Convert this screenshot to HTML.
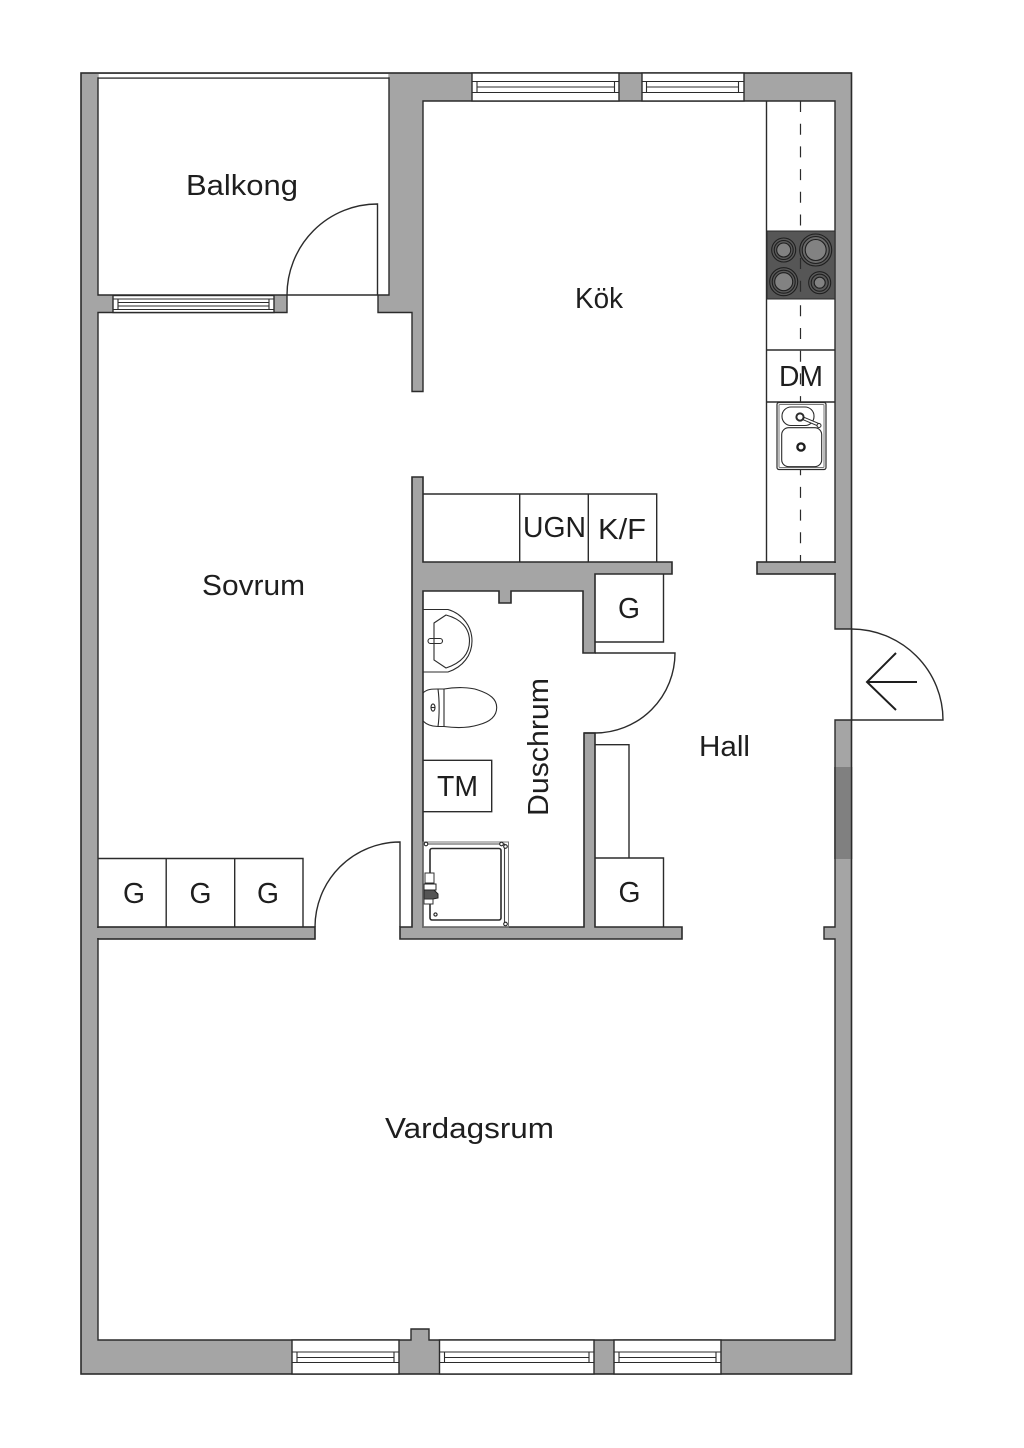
<!DOCTYPE html>
<html>
<head>
<meta charset="utf-8">
<title>Floor plan</title>
<style>
html,body{margin:0;padding:0;background:#fff;}
svg{display:block;}
text{font-family:"Liberation Sans",sans-serif;font-size:29px;fill:#1e1e1e;}
.l{fill:none;stroke:#2b2b2b;stroke-width:1.4;}
.w{fill:#fff;stroke:#2b2b2b;stroke-width:1.4;}
.g{fill:#a5a5a5;stroke:#2b2b2b;stroke-width:1.6;}
.t{fill:none;stroke:#2b2b2b;stroke-width:1.1;}
</style>
</head>
<body>
<svg width="1024" height="1448" viewBox="0 0 1024 1448" xmlns="http://www.w3.org/2000/svg">
<rect width="1024" height="1448" fill="#fff"/>

<!-- outer walls -->
<rect x="81" y="73" width="770.5" height="1301" class="g"/>
<!-- interior -->
<path class="w" d="M98 312.5 H287 V295 H98 V78 H389 V295 H378 V312.5 H412 V391.5 H423 V101 H835 V629 H851.5 V720 H835 V927 H824 V939 H835 V1340 H429 V1329 H411 V1340 H98 Z"/>
<rect x="98.7" y="74" width="289.6" height="3.4" fill="#fff"/>
<path class="l" d="M287 295 H378"/>
<path class="l" d="M851.5 629 V720" />

<!-- dark wall panel -->
<rect x="834.5" y="767" width="17" height="92" fill="#808080"/>
<path class="l" d="M835 767 V859 M851.5 767 V859"/>

<!-- interior walls -->
<path class="g" d="M412 477 H423 V562 H672 V574 H595 V653 H583 V591 H511 V603 H499 V591 H423 V927 H584 V733 H595 V927 H682 V939 H400 V927 H412 Z"/>
<rect x="98" y="927" width="217" height="12" class="g"/>
<rect x="96" y="928" width="5" height="10" fill="#a5a5a5"/>
<rect x="757" y="562" width="78" height="12" class="g"/>
<rect x="833" y="563" width="5" height="10" fill="#a5a5a5"/>

<!-- doors -->
<path class="l" d="M377.5 295 V204 A90.5 91 0 0 0 287 295"/>
<path class="l" d="M851.5 720 H943 A92 91 0 0 0 851.5 629"/>
<path class="l" d="M595 653 H675 A80 80 0 0 1 595 733 H584"/>
<path class="l" d="M400 927 V842 A85 85 0 0 0 315 927"/>
<path fill="none" stroke="#1e1e1e" stroke-width="2" d="M917 682 H867 M896 653 L867 682 L896 710"/>

<!-- windows -->
<g>
<!-- balcony -->
<rect x="113" y="295.500" width="161" height="17" class="w"/>
<path class="t" d="M113 299 H274 M118 302.5 H269 M118 306 H269 M113 309.5 H274 M118 299 V309.5 M269 299 V309.5"/>
<!-- top -->
<rect x="472" y="73" width="147" height="28" class="w"/>
<path class="t" d="M472 81.5 H619 M477 87 H614.5 M472 92.5 H619 M477 81.5 V92.5 M614.5 81.5 V92.5"/>
<rect x="642" y="73" width="102" height="28" class="w"/>
<path class="t" d="M642 81.5 H744 M646.5 87 H738.5 M642 92.5 H744 M646.5 81.5 V92.5 M738.5 81.5 V92.5"/>
<!-- bottom -->
<rect x="292" y="1340" width="107" height="34" class="w"/>
<path class="t" d="M292 1352 H399 M297 1357.5 H394 M292 1362.5 H399 M297 1352 V1362.5 M394 1352 V1362.5"/>
<rect x="439.500" y="1340" width="154.500" height="34" class="w"/>
<path class="t" d="M439.5 1352 H594 M444.5 1357.5 H589 M439.5 1362.5 H594 M444.5 1352 V1362.5 M589 1352 V1362.5"/>
<rect x="614" y="1340" width="107" height="34" class="w"/>
<path class="t" d="M614 1352 H721 M619 1357.5 H716 M614 1362.5 H721 M619 1352 V1362.5 M716 1352 V1362.5"/>
</g>

<!-- kitchen counter -->
<path class="l" d="M766.5 101 V562 M767 350 H835 M767 402 H835"/>
<path fill="none" stroke="#2b2b2b" stroke-width="1.2" stroke-dasharray="11 11.7" d="M800.5 101 V562"/>
<!-- stove -->
<rect x="767" y="231" width="68" height="68" fill="#565656" stroke="#2b2b2b" stroke-width="1"/>
<path stroke="#2b2b2b" stroke-width="1.2" stroke-dasharray="11 11.7" d="M800.5 258 V299"/>
<g stroke="#1f1f1f" stroke-width="1.1">
<circle cx="783.7" cy="250" r="12" fill="#5a5a5a"/><circle cx="783.7" cy="250" r="9.5" fill="#5a5a5a"/><circle cx="783.7" cy="250" r="7" fill="#828282"/>
<circle cx="815.7" cy="250" r="16" fill="#5a5a5a"/><circle cx="815.7" cy="250" r="13.5" fill="#6a6a6a"/><circle cx="815.7" cy="250" r="10.5" fill="#828282"/>
<circle cx="783.7" cy="281.7" r="14" fill="#5a5a5a"/><circle cx="783.7" cy="281.7" r="11.5" fill="#5a5a5a"/><circle cx="783.7" cy="281.7" r="9" fill="#828282"/>
<circle cx="819.7" cy="282.7" r="11" fill="#5a5a5a"/><circle cx="819.7" cy="282.7" r="8.5" fill="#5a5a5a"/><circle cx="819.7" cy="282.7" r="5.5" fill="#828282"/>
</g>
<!-- sink -->
<rect x="777" y="402.5" width="49" height="67" rx="2" fill="#fff" stroke="#2b2b2b" stroke-width="1.2"/>
<rect x="779" y="404.5" width="45" height="63" rx="1" fill="none" stroke="#777" stroke-width="1"/>
<rect x="782" y="407" width="32" height="18.5" rx="9" class="t" style="fill:#fff"/>
<rect x="781.7" y="427.7" width="40" height="39" rx="7" class="t" style="fill:#fff"/>
<path fill="none" stroke="#2b2b2b" stroke-width="3.6" d="M800 417 L819 425"/>
<path fill="none" stroke="#fff" stroke-width="1.6" d="M800 417 L819 425"/>
<circle cx="800" cy="417" r="3.6" fill="#fff" stroke="#2b2b2b" stroke-width="2"/>
<circle cx="819" cy="425.5" r="2" fill="#fff" stroke="#2b2b2b" stroke-width="1"/>
<circle cx="801" cy="447" r="3.6" fill="#fff" stroke="#1e1e1e" stroke-width="2.4"/>

<!-- kitchen units -->
<path class="l" d="M423 494 H656.7 V562 M519.7 494 V562 M588.3 494 V562"/>

<!-- cupboards -->
<path class="l" d="M595 642 H663.5 V574"/>
<path class="l" d="M595 744.7 H629 V858 M595 858 H663.5 V927"/>
<path class="l" d="M98 858.5 H303 V927 M166.2 858.5 V927 M234.7 858.5 V927"/>
<path class="l" d="M423 760.3 H491.7 V811.7 H423"/>

<!-- basin -->
<path class="t" d="M423 609.5 H448 C463 614 472 627 472 641 C472 655 463 667 448 672 H423"/>
<path class="t" d="M434 623 L446 615 C461 619 469.5 628 469.5 641 C469.5 654 461 663 446 668 L434 660 Z"/>
<rect x="428" y="638.5" width="14.5" height="5" rx="2.5" class="t"/>
<!-- toilet -->
<path class="t" d="M423 693 C427 689 432 689 438 689 L444 689 C455 687 470 687 478 690 C490 694 496.7 699 496.7 707.5 C496.7 716 490 722 478 725 C468 728 455 728 444 726.5 L438 726.5 C432 726.5 427 725 423 721"/>
<path class="t" d="M438 689 C439.5 700 439.5 716 438 726.5 M444 689 V726.5"/>
<ellipse cx="433" cy="707.5" rx="2" ry="3.6" class="t"/>
<path class="t" d="M431 707.5 H435"/>

<!-- shower -->
<rect x="423" y="842" width="85.5" height="85" fill="none" stroke="#777" stroke-width="1"/>
<path fill="none" stroke="#444" stroke-width="1.1" d="M426 844 H504.5 V926"/>
<rect x="430" y="848.5" width="71" height="71.5" rx="2" fill="none" stroke="#2b2b2b" stroke-width="1.6"/>
<g fill="#fff" stroke="#222" stroke-width="1.1">
<circle cx="426" cy="844" r="1.8"/><circle cx="501.5" cy="844" r="1.8"/>
<circle cx="505.5" cy="846.5" r="1.8"/><circle cx="505.5" cy="924" r="1.8"/>
<circle cx="435.5" cy="914.5" r="1.6"/>
</g>
<rect x="425" y="873" width="9" height="10" fill="#fff" stroke="#333" stroke-width="1"/>
<rect x="424" y="884" width="12" height="6" fill="#fff" stroke="#222" stroke-width="1"/>
<path fill="#555" stroke="#222" stroke-width="1" d="M424 890 H434 L438 894 V898 L433 899 H424 Z"/>
<rect x="424" y="899" width="9" height="5" fill="#fff" stroke="#333" stroke-width="1"/>

<!-- labels -->
<text x="186" y="195" textLength="112" lengthAdjust="spacingAndGlyphs">Balkong</text>
<text x="575" y="308" textLength="48" lengthAdjust="spacingAndGlyphs">Kök</text>
<text x="202" y="595" textLength="103" lengthAdjust="spacingAndGlyphs">Sovrum</text>
<text x="385" y="1138" textLength="169" lengthAdjust="spacingAndGlyphs">Vardagsrum</text>
<text x="699" y="756" textLength="51" lengthAdjust="spacingAndGlyphs">Hall</text>
<text transform="translate(548 816) rotate(-90)" textLength="138" lengthAdjust="spacingAndGlyphs">Duschrum</text>
<text x="523" y="537" textLength="63" lengthAdjust="spacingAndGlyphs">UGN</text>
<text x="598" y="539" textLength="48" lengthAdjust="spacingAndGlyphs">K/F</text>
<text x="779" y="386" textLength="44" lengthAdjust="spacingAndGlyphs">DM</text>
<text x="437" y="796" textLength="41" lengthAdjust="spacingAndGlyphs">TM</text>
<text x="123" y="903" textLength="22" lengthAdjust="spacingAndGlyphs">G</text>
<text x="189.5" y="903" textLength="22" lengthAdjust="spacingAndGlyphs">G</text>
<text x="257" y="903" textLength="22" lengthAdjust="spacingAndGlyphs">G</text>
<text x="618" y="618" textLength="22" lengthAdjust="spacingAndGlyphs">G</text>
<text x="618.5" y="902" textLength="22" lengthAdjust="spacingAndGlyphs">G</text>
</svg>
</body>
</html>
